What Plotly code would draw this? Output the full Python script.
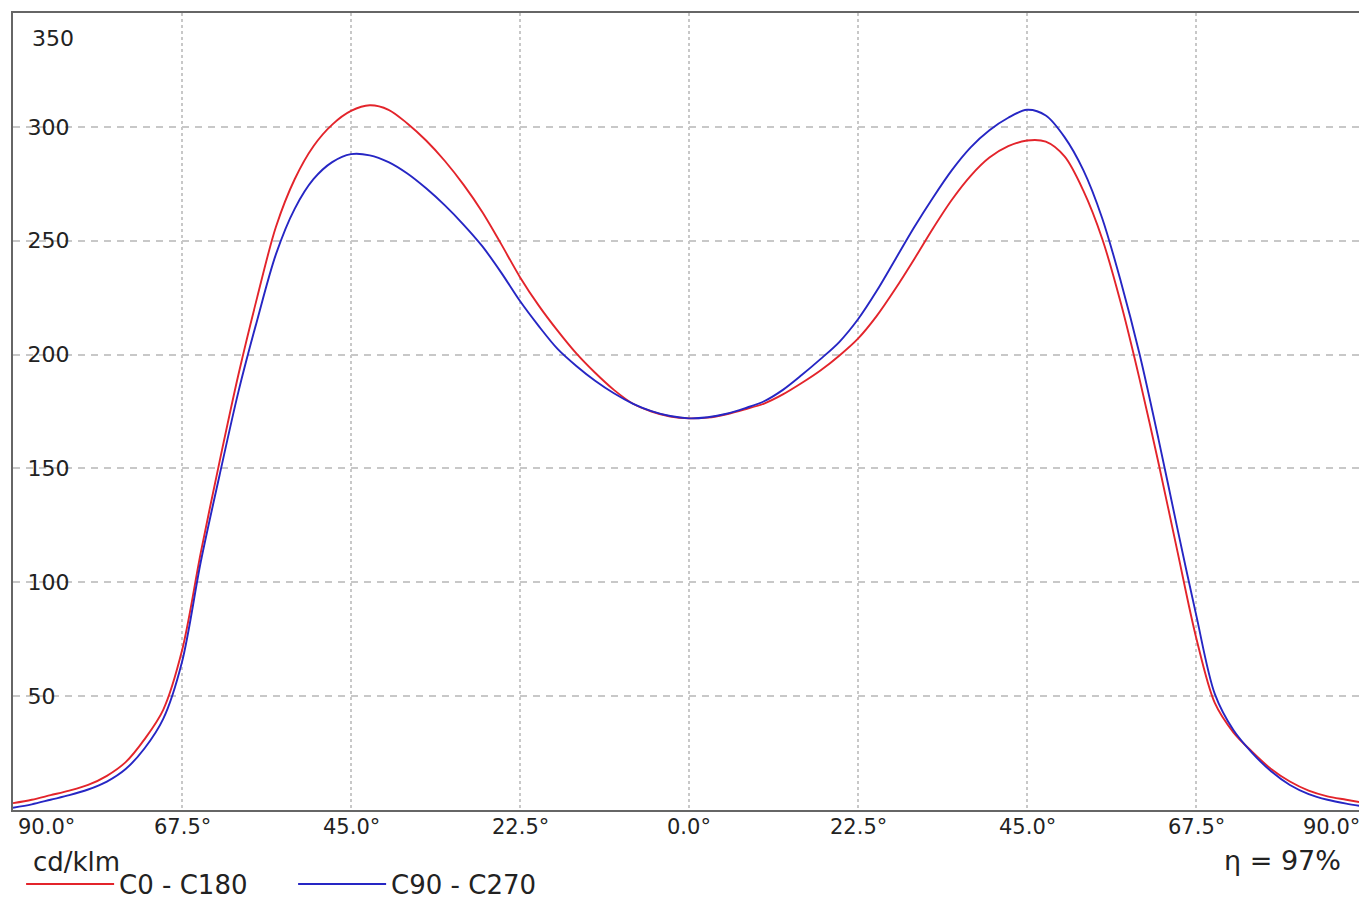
import plotly.graph_objects as go

# Angles (degrees): negative = C180 / C270 side (left), positive = C0 / C90 side (right)
angles = [-90, -87.5, -85, -82.5, -80, -77.5, -75, -72.5, -70, -67.5, -65, -62.5,
          -60, -57.5, -55, -52.5, -50, -47.5, -45, -42.5, -40, -37.5, -35, -32.5,
          -30, -27.5, -25, -22.5, -20, -17.5, -15, -12.5, -10, -7.5, -5, -2.5,
          0, 2.5, 5, 7.5, 10, 12.5, 15, 17.5, 20, 22.5, 25, 27.5,
          30, 32.5, 35, 37.5, 40, 42.5, 45, 47.5, 50, 52.5, 55, 57.5,
          60, 62.5, 65, 67.5, 70, 72.5, 75, 77.5, 80, 82.5, 85, 87.5, 90]

c0_c180 = [3, 4.5, 6.5, 8.5, 11, 15, 21, 31, 44, 70, 113, 153,
           191, 225, 256, 277, 291.5, 301, 307, 309.5, 307.5, 301.5, 294, 285,
           274.5, 262.5, 248.5, 234, 221.5, 210.5, 200.5, 192, 184.5, 178.5, 175, 172.8,
           172, 172.3, 173.8, 176, 178.5, 182.5, 187.5, 193, 199.5, 207, 217, 229,
           242, 255.5, 268, 278.5, 286.5, 291.5, 294, 293.5, 287, 272, 251, 222.5,
           189, 152.5, 114, 76, 47, 34, 25.5, 18, 12.5, 8.5, 6, 4.5, 3]

c90_c270 = [1, 2.5, 4.5, 6.5, 9, 12.5, 18, 27, 40, 65, 109, 147,
            183.5, 215, 244, 264, 277, 284.5, 288, 287.5, 284.5, 279.5, 273, 265.5,
            257, 247.5, 236, 223.5, 212.5, 202.5, 195, 188.5, 183, 178.5, 175.2, 173,
            172, 172.5, 174, 176.5, 179.5, 184.5, 191, 198, 205.5, 215.5, 228, 242,
            256, 269, 281, 291, 298.5, 304, 307.5, 305, 295.5, 281, 260, 232,
            200, 163, 124, 86, 51, 35, 25, 17, 11, 7, 4.5, 2.8, 1.5]

x_tick_vals = [-90, -67.5, -45, -22.5, 0, 22.5, 45, 67.5, 90]
x_tick_text = ["90.0°", "67.5°", "45.0°", "22.5°", "0.0°", "22.5°", "45.0°", "67.5°", "90.0°"]
y_tick_vals = [50, 100, 150, 200, 250, 300]
y_top_label = 350

series_names = ["C0 - C180", "C90 - C270"]
series_colors = ["#e3242b", "#2626c4"]

FONT = "DejaVu Sans"
TXT = "#222222"

fig = go.Figure()
for name, vals, col in zip(series_names, [c0_c180, c90_c270], series_colors):
    fig.add_trace(go.Scatter(x=angles, y=vals, mode="lines", name=name,
                             line=dict(color=col, width=1.9, shape="spline", smoothing=0.9)))

annotations = []
# x tick labels as annotations (end labels aligned inside the frame)
last = len(x_tick_vals) - 1
for i, (v, t) in enumerate(zip(x_tick_vals, x_tick_text)):
    anchor = "left" if i == 0 else ("right" if i == last else "center")
    shift = 3 if i == 0 else (-3 if i == last else 0)
    annotations.append(dict(x=v, y=0, xref="x", yref="paper", text=t, showarrow=False,
                            xanchor=anchor, yanchor="middle", yshift=-17, xshift=shift,
                            font=dict(family=FONT, size=21, color=TXT)))
# top y label placed a little below the frame top
annotations.append(dict(x=0, y=y_top_label, xref="paper", yref="y", text=str(y_top_label),
                        showarrow=False, xanchor="left", yanchor="middle", xshift=17, yshift=-25,
                        font=dict(family=FONT, size=22, color=TXT)))
annotations.append(dict(x=0.013, y=0, xref="paper", yref="paper", text="cd/klm", showarrow=False,
                        xanchor="left", yanchor="middle", yshift=-52,
                        font=dict(family=FONT, size=26, color=TXT)))
annotations.append(dict(x=0.9837, y=0, xref="paper", yref="paper", text="η = 97%", showarrow=False,
                        xanchor="right", yanchor="middle", yshift=-50,
                        font=dict(family=FONT, size=27, color=TXT)))

fig.update_layout(
    width=1359, height=891,
    margin=dict(l=5, r=2, t=5, b=89, autoexpand=False),
    paper_bgcolor="white", plot_bgcolor="white",
    font=dict(family=FONT, size=21, color=TXT),
    showlegend=True,
    legend=dict(orientation="h", x=0.006, xanchor="left", y=-0.093, yanchor="middle",
                font=dict(family=FONT, size=26, color=TXT), bgcolor="rgba(0,0,0,0)",
                itemwidth=88, entrywidth=169, entrywidthmode="pixels", tracegroupgap=0),
    annotations=annotations,
)
fig.update_xaxes(range=[-90, 90], tickvals=x_tick_vals, showticklabels=False, ticks="",
                 showgrid=True, gridcolor="#c8c8c8", gridwidth=1.5, griddash="dot",
                 showline=True, linecolor="#666666", linewidth=2, mirror=True, zeroline=False)
fig.update_yaxes(range=[0, 350], tickvals=y_tick_vals, ticks="", ticklabelposition="inside",
                 ticklabelstandoff=16, tickfont=dict(family=FONT, size=22, color=TXT),
                 showgrid=True, gridcolor="#c8c8c8", gridwidth=1.5, griddash="7px,6px",
                 showline=True, linecolor="#666666", linewidth=2, mirror=True, zeroline=False)

fig.write_html("out.html")
